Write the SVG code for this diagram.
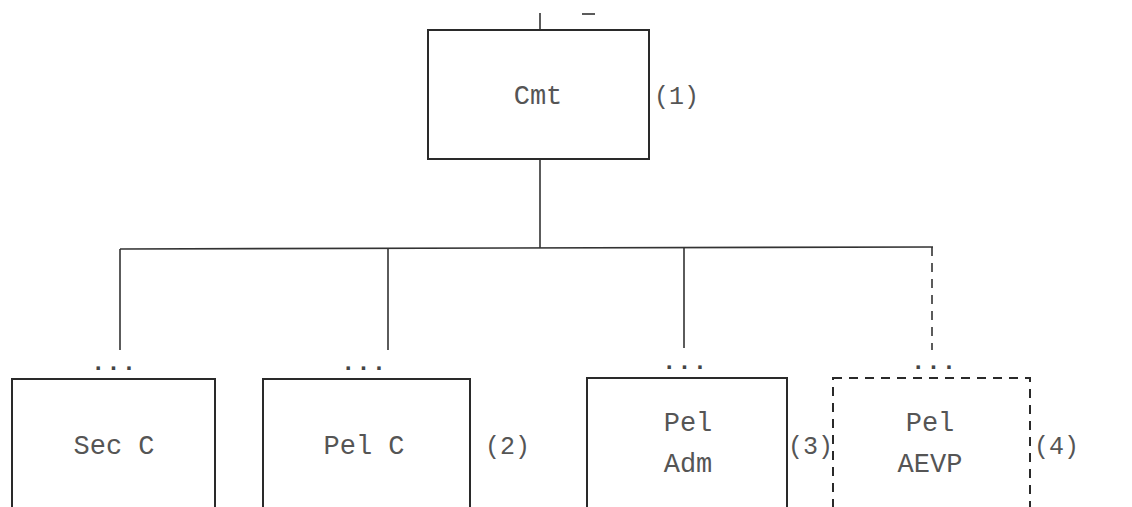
<svg xmlns="http://www.w3.org/2000/svg" width="1132" height="507" viewBox="0 0 1132 507">
<style>
.box{fill:none;stroke:#2a2a2a;stroke-width:2}
.dash{stroke-dasharray:9,7}
.ln{fill:none;stroke:#333;stroke-width:1.6}
.t{font-family:"Liberation Mono","DejaVu Sans Mono",monospace;font-size:27px;fill:#555;text-anchor:middle}
.n{font-family:"Liberation Mono","DejaVu Sans Mono",monospace;font-size:25px;fill:#555}
.dots{font-family:"Liberation Mono","DejaVu Sans Mono",monospace;font-size:24px;font-weight:bold;fill:#444;text-anchor:middle;letter-spacing:1px}
</style>
<rect width="1132" height="507" fill="#fff"/>
<g id="connectors">
<line class="ln" x1="540" y1="13" x2="540" y2="29"/>
<line class="ln" x1="582" y1="14" x2="595" y2="14"/>
<line class="ln" x1="540" y1="159" x2="540" y2="248"/>
<line class="ln" x1="120" y1="249" x2="933" y2="247"/>
<line class="ln" x1="120" y1="249" x2="120" y2="350"/>
<line class="ln" x1="388" y1="249" x2="388" y2="350"/>
<line class="ln" x1="684" y1="248" x2="684" y2="348"/>
<line class="ln dash" x1="932" y1="247" x2="932" y2="350"/>
</g>
<g id="cmt">
<rect class="box" x="428" y="30" width="221" height="129"/>
<text class="t" x="538" y="104">Cmt</text>
<text class="n" x="654" y="104">(1)</text>
</g>
<g id="secc">
<text class="dots" x="114" y="370">...</text>
<rect class="box" x="12" y="379" width="203" height="140"/>
<text class="t" x="114" y="454">Sec C</text>
</g>
<g id="pelc">
<text class="dots" x="364" y="370">...</text>
<rect class="box" x="263" y="379" width="207" height="140"/>
<text class="t" x="364" y="454">Pel C</text>
<text class="n" x="485" y="454">(2)</text>
</g>
<g id="peladm">
<text class="dots" x="685" y="369">...</text>
<rect class="box" x="587" y="378" width="200" height="140"/>
<text class="t" x="688" y="431">Pel</text>
<text class="t" x="688" y="472">Adm</text>
<text class="n" x="788" y="454">(3)</text>
</g>
<g id="pelaevp">
<text class="dots" x="934" y="369">...</text>
<rect class="box dash" x="833" y="378" width="197" height="140"/>
<text class="t" x="930" y="431">Pel</text>
<text class="t" x="930" y="472">AEVP</text>
<text class="n" x="1034" y="454">(4)</text>
</g>
</svg>
